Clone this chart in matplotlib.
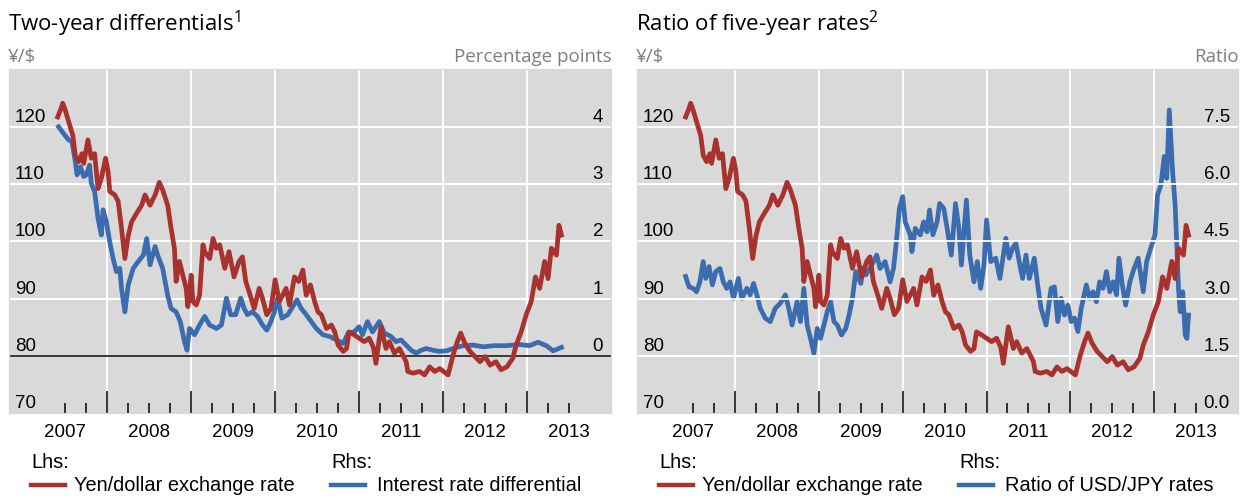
import matplotlib.pyplot as plt
from matplotlib.lines import Line2D
from matplotlib import transforms

plt.rcParams['font.family'] = ['Liberation Sans', 'DejaVu Sans']
plt.rcParams['mathtext.fontset'] = 'custom'
plt.rcParams['mathtext.rm'] = 'Open Sans'

# yen/dollar exchange rate (lhs, both panels), decimal years
yen_t = [2007.41, 2007.45, 2007.47, 2007.50, 2007.54, 2007.59, 2007.62, 2007.66, 2007.70, 2007.72,
         2007.77, 2007.81, 2007.85, 2007.89, 2007.93, 2007.98, 2008.01, 2008.03, 2008.09, 2008.13,
         2008.17, 2008.21, 2008.25, 2008.29, 2008.35, 2008.41, 2008.45, 2008.51, 2008.57, 2008.62,
         2008.66, 2008.72, 2008.76, 2008.80, 2008.82, 2008.86, 2008.90, 2008.94, 2008.96, 2009.00,
         2009.02, 2009.06, 2009.10, 2009.14, 2009.16, 2009.22, 2009.26, 2009.30, 2009.34, 2009.40,
         2009.45, 2009.51, 2009.57, 2009.61, 2009.65, 2009.69, 2009.75, 2009.81, 2009.85, 2009.90,
         2009.95, 2010.00, 2010.05, 2010.13, 2010.17, 2010.23, 2010.28, 2010.33, 2010.37, 2010.42,
         2010.47, 2010.51, 2010.55, 2010.61, 2010.67, 2010.71, 2010.75, 2010.81, 2010.85, 2010.88,
         2010.94, 2011.00, 2011.06, 2011.12, 2011.17, 2011.20, 2011.26, 2011.32, 2011.36, 2011.42,
         2011.48, 2011.52, 2011.56, 2011.58, 2011.64, 2011.72, 2011.78, 2011.84, 2011.90, 2011.96,
         2012.06, 2012.12, 2012.17, 2012.21, 2012.26, 2012.32, 2012.38, 2012.44, 2012.50, 2012.56,
         2012.63, 2012.69, 2012.76, 2012.83, 2012.87, 2012.93, 2012.99, 2013.05, 2013.10, 2013.15,
         2013.21, 2013.25, 2013.29, 2013.35, 2013.38, 2013.41]
yen_v = [121.7, 123.2, 124.1, 122.9, 120.9, 118.5, 115.0, 113.9, 115.3, 113.6,
         117.7, 114.5, 115.3, 109.2, 111.0, 114.5, 112.2, 108.7, 108.1, 107.0,
         102.3, 97.0, 101.0, 103.4, 104.9, 106.3, 108.1, 106.3, 108.1, 110.3,
         109.0, 106.3, 102.3, 98.8, 93.0, 96.5, 94.1, 91.8, 88.6, 94.1,
         89.5, 88.9, 90.6, 99.4, 98.2, 97.0, 100.5, 98.8, 99.4, 95.3,
         98.2, 93.8, 96.5, 97.3, 93.0, 91.2, 88.3, 91.8, 90.0, 87.2,
         88.3, 93.3, 89.5, 91.8, 88.9, 93.8, 93.0, 95.0, 90.6, 92.4,
         89.5, 87.7, 87.2, 84.8, 85.4, 84.2, 81.9, 80.8, 81.3, 84.2,
         83.7, 83.1, 82.5, 83.1, 81.5, 78.7, 85.1, 81.3, 82.5, 80.5,
         81.3, 80.2, 79.0, 77.3, 77.0, 77.3, 76.7, 78.1, 77.3, 77.8,
         76.7, 80.2, 82.5, 84.0, 82.2, 80.8, 79.9, 79.0, 79.9, 78.4,
         79.0, 77.6, 78.1, 79.6, 81.9, 84.2, 87.2, 89.5, 93.8, 91.8,
         96.5, 93.5, 98.8, 97.6, 102.8, 101.1]

# two-year interest rate differential (rhs, left panel), percentage points
diff_t = [2007.42, 2007.48, 2007.54, 2007.58, 2007.62, 2007.64, 2007.68, 2007.72, 2007.75, 2007.79,
          2007.81, 2007.85, 2007.89, 2007.93, 2007.95, 2007.99, 2008.03, 2008.07, 2008.11, 2008.15,
          2008.17, 2008.21, 2008.25, 2008.31, 2008.37, 2008.43, 2008.47, 2008.51, 2008.57, 2008.60,
          2008.66, 2008.72, 2008.76, 2008.82, 2008.87, 2008.92, 2008.95, 2008.98, 2009.04, 2009.10,
          2009.16, 2009.22, 2009.30, 2009.36, 2009.42, 2009.47, 2009.53, 2009.59, 2009.63, 2009.67,
          2009.73, 2009.79, 2009.85, 2009.90, 2009.95, 2009.99, 2010.03, 2010.08, 2010.15, 2010.21,
          2010.26, 2010.31, 2010.37, 2010.43, 2010.49, 2010.57, 2010.65, 2010.73, 2010.81, 2010.87,
          2010.94, 2011.00, 2011.04, 2011.10, 2011.16, 2011.24, 2011.30, 2011.38, 2011.44, 2011.50,
          2011.56, 2011.62, 2011.68, 2011.74, 2011.80, 2011.88, 2011.96, 2012.04, 2012.16, 2012.24,
          2012.36, 2012.48, 2012.60, 2012.75, 2012.91, 2013.03, 2013.13, 2013.23, 2013.31, 2013.41]
diff_v = [4.00, 3.88, 3.77, 3.74, 3.39, 3.16, 3.30, 3.13, 3.16, 3.33,
          3.01, 2.87, 2.40, 2.11, 2.55, 2.34, 1.99, 1.70, 1.47, 1.53,
          1.18, 0.77, 1.24, 1.53, 1.65, 1.76, 2.05, 1.59, 1.91, 1.76,
          1.53, 1.06, 0.83, 0.77, 0.60, 0.25, 0.10, 0.48, 0.37, 0.54,
          0.69, 0.54, 0.48, 0.54, 1.01, 0.72, 0.72, 1.01, 0.83, 0.72,
          0.77, 0.69, 0.54, 0.45, 0.60, 0.77, 1.01, 0.66, 0.72, 0.86,
          0.98, 0.83, 0.72, 0.60, 0.48, 0.37, 0.34, 0.28, 0.22, 0.40,
          0.42, 0.51, 0.37, 0.60, 0.42, 0.60, 0.40, 0.34, 0.25, 0.28,
          0.19, 0.10, 0.05, 0.10, 0.13, 0.10, 0.08, 0.09, 0.15, 0.18,
          0.19, 0.16, 0.18, 0.18, 0.20, 0.18, 0.24, 0.18, 0.09, 0.15]

# ratio of USD/JPY five-year rates (rhs, right panel)
ratio_t = [2007.41, 2007.45, 2007.50, 2007.54, 2007.58, 2007.62, 2007.65, 2007.69, 2007.73, 2007.77,
           2007.82, 2007.86, 2007.90, 2007.94, 2007.98, 2008.04, 2008.08, 2008.14, 2008.18, 2008.22,
           2008.26, 2008.30, 2008.36, 2008.42, 2008.48, 2008.54, 2008.60, 2008.64, 2008.68, 2008.74,
           2008.78, 2008.82, 2008.86, 2008.90, 2008.94, 2008.98, 2009.02, 2009.06, 2009.10, 2009.14,
           2009.18, 2009.22, 2009.27, 2009.32, 2009.36, 2009.40, 2009.44, 2009.50, 2009.53, 2009.56,
           2009.63, 2009.69, 2009.73, 2009.79, 2009.85, 2009.89, 2009.92, 2009.96, 2010.00, 2010.03,
           2010.09, 2010.11, 2010.15, 2010.21, 2010.25, 2010.29, 2010.32, 2010.36, 2010.41, 2010.44,
           2010.49, 2010.53, 2010.58, 2010.63, 2010.67, 2010.70, 2010.76, 2010.80, 2010.85, 2010.89,
           2010.93, 2010.97, 2011.00, 2011.05, 2011.11, 2011.16, 2011.23, 2011.27, 2011.31, 2011.35,
           2011.39, 2011.43, 2011.47, 2011.51, 2011.57, 2011.61, 2011.65, 2011.71, 2011.77, 2011.81,
           2011.85, 2011.89, 2011.93, 2011.97, 2012.01, 2012.05, 2012.09, 2012.13, 2012.19, 2012.23,
           2012.27, 2012.31, 2012.35, 2012.39, 2012.43, 2012.47, 2012.51, 2012.55, 2012.58, 2012.62,
           2012.66, 2012.71, 2012.76, 2012.81, 2012.87, 2012.91, 2012.97, 2013.01, 2013.04, 2013.08,
           2013.12, 2013.15, 2013.18, 2013.22, 2013.25, 2013.27, 2013.29, 2013.31, 2013.34, 2013.37,
           2013.39, 2013.41]
ratio_v = [3.58, 3.31, 3.27, 3.18, 3.44, 3.97, 3.53, 3.84, 3.36, 3.71,
           3.79, 3.44, 3.27, 3.44, 3.01, 3.53, 3.01, 3.27, 3.10, 3.40,
           3.10, 2.75, 2.49, 2.40, 2.75, 2.88, 3.10, 2.75, 2.31, 2.92,
           2.40, 3.27, 2.31, 1.96, 1.57, 2.22, 1.96, 2.31, 2.66, 2.92,
           2.40, 2.31, 2.05, 2.22, 2.57, 3.01, 3.71, 3.40, 3.79, 3.62,
           3.88, 4.14, 3.79, 3.97, 3.44, 3.79, 4.40, 5.36, 5.67, 5.01,
           4.67, 4.23, 4.84, 4.67, 5.01, 4.75, 5.32, 4.67, 5.01, 5.49,
           5.36, 4.84, 4.14, 5.49, 4.84, 3.88, 5.58, 4.14, 3.44, 3.97,
           3.27, 3.88, 5.06, 3.97, 4.06, 3.53, 4.58, 4.06, 4.32, 4.45,
           3.97, 3.53, 4.14, 3.53, 4.06, 3.36, 2.75, 2.31, 3.27, 3.31,
           2.40, 3.01, 2.57, 2.83, 2.40, 2.49, 2.14, 2.75, 3.36, 3.01,
           3.18, 2.92, 3.44, 3.27, 3.71, 3.18, 3.44, 3.10, 4.06, 3.36,
           2.83, 3.44, 3.79, 4.06, 3.18, 3.97, 4.40, 4.67, 5.71, 5.97,
           6.72, 6.15, 7.94, 6.32, 5.45, 4.40, 3.27, 2.66, 3.18, 2.05,
           1.96, 2.57]

years = [2007, 2008, 2009, 2010, 2011, 2012, 2013]
lhs_ticks = [70, 80, 90, 100, 110, 120]
diff_ticks = [0, 1, 2, 3, 4]
ratio_ticks = [0.0, 1.5, 3.0, 4.5, 6.0, 7.5]

RED = '#A8322D'
BLUE = '#3A6CAF'
BG = '#D9D9D9'
GREY_TXT = '#7F7F7F'
W, H = 1242, 498
LW = 3.4
FS = 13.5
XLIM = (2006.83, 2014.0)
YLIM = (70, 130)
AX_TOP, AX_BOT = 69.4, 413.3

fig = plt.figure(figsize=(W / 100, H / 100), dpi=100)


def fx(x):
    return x / W


def fy(y):
    return 1 - y / H


def panel(x0, x1, title, sup, unit_r, rhs_t, rhs_v, rhs_lim, rhs_ticks, rhs_fmt,
          rhs_name, zero_line):
    rect = [fx(x0), fy(AX_BOT), fx(x1 - x0), (AX_BOT - AX_TOP) / H]
    # two stacked axes in the same box: rhs below (background, grid), lhs on top
    axr = fig.add_axes(rect, zorder=1, label=title + ' rhs')
    axl = fig.add_axes(rect, zorder=2, label=title + ' lhs')
    axr.set_facecolor(BG)
    axl.patch.set_visible(False)
    for a in (axr, axl):
        a.set_xlim(*XLIM)
        for s in a.spines.values():
            s.set_color(BG)
        a.set_yticks([])
    axl.set_ylim(*YLIM)
    axr.set_ylim(*rhs_lim)
    axl.set_xticks([])

    axr.set_xticks([y + 1 for y in years[:-1]])
    axr.set_xticks([y + q for y in years for q in (0.25, 0.5, 0.75)
                    if 2007.4 < y + q < 2013.6], minor=True)
    axr.tick_params(axis='x', which='major', bottom=True, top=False, direction='in',
                    length=15.5, width=1.1, color='black', labelbottom=False)
    axr.tick_params(axis='x', which='minor', bottom=True, top=False, direction='in',
                    length=7.5, width=1.1, color='black', labelbottom=False)

    # white grid lines at the lhs ticks
    per_px = (rhs_lim[1] - rhs_lim[0]) / (AX_BOT - AX_TOP)
    gy = transforms.blended_transform_factory(axr.transAxes, axr.transData)
    for v in lhs_ticks[1:] + [YLIM[1]]:
        g = rhs_lim[0] + (v - YLIM[0]) * (rhs_lim[1] - rhs_lim[0]) / (YLIM[1] - YLIM[0])
        axr.axhspan(g - 0.95 * per_px, g + 0.95 * per_px, color='white', lw=0, zorder=0.8)
        if not zero_line:
            fig.add_artist(Line2D([0, 1], [g, g], transform=gy, color='white',
                                  lw=1.3, zorder=1.2))
    for y in years[:-1]:
        axr.axvline(y + 1, color='white', lw=1.4, zorder=0.8)
    if zero_line:
        axr.axhline(0, color='black', lw=1.1, zorder=1.5)

    axr.plot(rhs_t, rhs_v, color=BLUE, lw=LW, solid_joinstyle='round', zorder=3)
    axl.plot(yen_t, yen_v, color=RED, lw=LW, solid_joinstyle='round', zorder=3)

    # tick labels drawn inside the plot, just above their grid line
    off_l = transforms.ScaledTranslation(6 / 100, 5 / 100, fig.dpi_scale_trans)
    off_r = transforms.ScaledTranslation(-8 / 100, 5 / 100, fig.dpi_scale_trans)
    tl = transforms.blended_transform_factory(axl.transAxes, axl.transData) + off_l
    tr = transforms.blended_transform_factory(axr.transAxes, axr.transData) + off_r
    for v in lhs_ticks:
        axl.text(0, v, str(v), transform=tl, ha='left', va='baseline',
                 fontsize=FS, zorder=5)
    for v in rhs_ticks:
        axl.text(1, v, rhs_fmt.format(v), transform=tr, ha='right', va='baseline',
                 fontsize=FS, zorder=5)

    off_b = transforms.ScaledTranslation(0, -11 / 100, fig.dpi_scale_trans)
    tb = axl.get_xaxis_transform() + off_b
    for y in years:
        axl.text(y + 0.5, 0, str(y), transform=tb, ha='center', va='top',
                 fontsize=FS, clip_on=False)

    # titles and units
    fig.text(fx(x0 - 1), fy(31), title + '$^{' + sup + '}$', fontsize=16,
             family='Open Sans', va='baseline', ha='left')
    fig.text(fx(x0 - 1), fy(62), '¥/$', fontsize=13.5, family='Open Sans',
             color=GREY_TXT, va='baseline', ha='left')
    fig.text(fx(x1 + 1), fy(62), unit_r, fontsize=13.5, family='Open Sans',
             color=GREY_TXT, va='baseline', ha='right')

    # legend
    lx = x0 + 22
    rx = x0 + 322
    lfs = 14.4
    fig.text(fx(lx), fy(468), 'Lhs:', fontsize=lfs, va='baseline')
    fig.text(fx(rx), fy(468), 'Rhs:', fontsize=lfs, va='baseline')
    fig.add_artist(Line2D([fx(lx), fx(lx + 34)], [fy(485), fy(485)], color=RED, lw=3.2))
    fig.add_artist(Line2D([fx(rx), fx(rx + 34)], [fy(485), fy(485)], color=BLUE, lw=3.2))
    fig.text(fx(lx + 43), fy(491), 'Yen/dollar exchange rate', fontsize=lfs, va='baseline')
    fig.text(fx(rx + 46), fy(491), rhs_name, fontsize=lfs, va='baseline')


panel(9, 611, 'Two-year differentials', '1', 'Percentage points',
      diff_t, diff_v, (-1, 5), diff_ticks, '{:d}', 'Interest rate differential',
      zero_line=True)
panel(637, 1238, 'Ratio of five-year rates', '2', 'Ratio',
      ratio_t, ratio_v, (0, 9), ratio_ticks, '{:.1f}', 'Ratio of USD/JPY rates',
      zero_line=False)

fig.savefig('out.png', dpi=100)
